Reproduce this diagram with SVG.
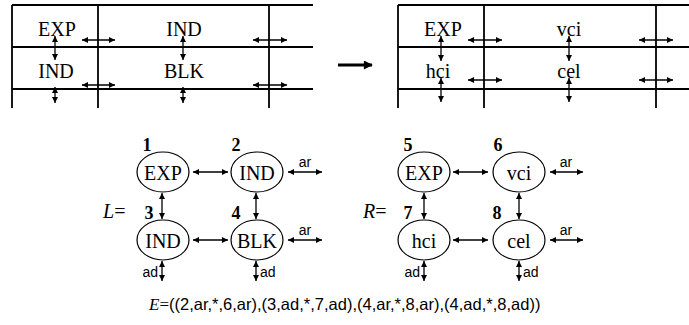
<svg xmlns="http://www.w3.org/2000/svg" width="689" height="325" viewBox="0 0 689 325">
<style>
.grid line{stroke:#000;stroke-width:1.8}
.ser{font-family:"Liberation Serif","Times New Roman",serif;font-size:20px;fill:#000}
.num{font-family:"Liberation Serif","Times New Roman",serif;font-size:18px;font-weight:bold;fill:#000}
.it{font-style:italic}
.sans{font-family:"Liberation Sans",Arial,sans-serif;font-size:14px;fill:#000}
.fser{font-family:"Liberation Serif","Times New Roman",serif;font-size:17px;fill:#000}
.fsans{font-family:"Liberation Sans",Arial,sans-serif;font-size:16.5px}
.ar{stroke:#000;stroke-width:1.3;fill:none;marker-start:url(#ah);marker-end:url(#ah)}
ellipse{fill:none;stroke:#000;stroke-width:1.2}
</style>
<defs>
<marker id="ah" viewBox="0 0 10 10" refX="10" refY="5" markerWidth="7" markerHeight="6" orient="auto-start-reverse" markerUnits="userSpaceOnUse"><path d="M0,0 L10,5 L0,10 z" fill="#000"/></marker>
<marker id="big" viewBox="0 0 10 10" refX="9" refY="5" markerWidth="11" markerHeight="9" orient="auto" markerUnits="userSpaceOnUse"><path d="M0,0 L10,5 L0,10 z" fill="#000"/></marker>
</defs>
<rect width="689" height="325" fill="#fff"/>

<g id="grid-left" class="grid">
<line x1="12" y1="5" x2="313" y2="5"/>
<line x1="12" y1="47" x2="313" y2="47"/>
<line x1="12" y1="89" x2="313" y2="89"/>
<line x1="12" y1="5" x2="12" y2="108"/>
<line x1="98" y1="5" x2="98" y2="108"/>
<line x1="269" y1="5" x2="269" y2="108"/>
</g>
<g id="grid-left-text" class="ser" text-anchor="middle">
<text x="57" y="36">EXP</text>
<text x="184" y="36">IND</text>
<text x="56" y="78">IND</text>
<text x="184" y="78">BLK</text>
</g>

<g id="transform-arrow">
<line x1="338" y1="65" x2="372" y2="65" stroke="#000" stroke-width="3.2" marker-end="url(#big)"/>
</g>

<g id="grid-right" class="grid">
<line x1="398" y1="5" x2="689" y2="5"/>
<line x1="398" y1="47" x2="689" y2="47"/>
<line x1="398" y1="89" x2="689" y2="89"/>
<line x1="398" y1="5" x2="398" y2="108"/>
<line x1="484" y1="5" x2="484" y2="108"/>
<line x1="656" y1="5" x2="656" y2="108"/>
</g>
<g id="grid-right-text" class="ser" text-anchor="middle">
<text x="443" y="36">EXP</text>
<text x="569" y="36">vci</text>
<text x="438" y="78">hci</text>
<text x="569" y="78">cel</text>
</g>

<g id="grid-connectors">
<line class="ar" x1="82" y1="40" x2="115" y2="40"/>
<line class="ar" x1="253" y1="40" x2="287" y2="40"/>
<line class="ar" x1="82" y1="85" x2="115" y2="85"/>
<line class="ar" x1="253" y1="85" x2="287" y2="85"/>
<line class="ar" x1="55" y1="36" x2="55" y2="60"/>
<line class="ar" x1="183" y1="36" x2="183" y2="60"/>
<line class="ar" x1="55" y1="87" x2="55" y2="103"/>
<line class="ar" x1="183" y1="87" x2="183" y2="103"/>
<line class="ar" x1="468" y1="40" x2="502" y2="40"/>
<line class="ar" x1="639" y1="40" x2="673" y2="40"/>
<line class="ar" x1="468" y1="80" x2="502" y2="80"/>
<line class="ar" x1="639" y1="80" x2="673" y2="80"/>
<line class="ar" x1="441" y1="36" x2="441" y2="61"/>
<line class="ar" x1="569" y1="36" x2="569" y2="61"/>
<line class="ar" x1="441" y1="78" x2="441" y2="102"/>
<line class="ar" x1="569" y1="78" x2="569" y2="102"/>
</g>

<text class="ser it" x="103" y="218">L<tspan font-style="normal">=</tspan></text>
<text class="ser it" x="363" y="218">R<tspan font-style="normal">=</tspan></text>

<g id="n1"><ellipse cx="163" cy="172" rx="26" ry="20"/><text class="ser" x="163" y="180" text-anchor="middle">EXP</text><text class="num" x="147" y="151" text-anchor="middle">1</text></g>
<g id="n2"><ellipse cx="257" cy="172" rx="26" ry="20"/><text class="ser" x="257" y="180" text-anchor="middle">IND</text><text class="num" x="236" y="151" text-anchor="middle">2</text></g>
<g id="n3"><ellipse cx="163" cy="240" rx="26" ry="20"/><text class="ser" x="163" y="248" text-anchor="middle">IND</text><text class="num" x="149" y="219" text-anchor="middle">3</text></g>
<g id="n4"><ellipse cx="257" cy="240" rx="26" ry="20"/><text class="ser" x="257" y="248" text-anchor="middle">BLK</text><text class="num" x="236" y="219" text-anchor="middle">4</text></g>
<g id="n5"><ellipse cx="424" cy="172" rx="26" ry="20"/><text class="ser" x="424" y="180" text-anchor="middle">EXP</text><text class="num" x="408" y="151" text-anchor="middle">5</text></g>
<g id="n6"><ellipse cx="519" cy="172" rx="26" ry="20"/><text class="ser" x="519" y="180" text-anchor="middle">vci</text><text class="num" x="498" y="151" text-anchor="middle">6</text></g>
<g id="n7"><ellipse cx="424" cy="240" rx="26" ry="20"/><text class="ser" x="424" y="248" text-anchor="middle">hci</text><text class="num" x="408" y="219" text-anchor="middle">7</text></g>
<g id="n8"><ellipse cx="519" cy="240" rx="26" ry="20"/><text class="ser" x="519" y="248" text-anchor="middle">cel</text><text class="num" x="497" y="219" text-anchor="middle">8</text></g>

<g id="connectors">
<line class="ar" x1="193" y1="172" x2="228" y2="172"/>
<line class="ar" x1="193" y1="240" x2="228" y2="240"/>
<line class="ar" x1="288" y1="172" x2="322" y2="172"/>
<line class="ar" x1="288" y1="240" x2="322" y2="240"/>
<line class="ar" x1="162" y1="193" x2="162" y2="219"/>
<line class="ar" x1="256" y1="193" x2="256" y2="219"/>
<line class="ar" x1="162" y1="261" x2="162" y2="281"/>
<line class="ar" x1="256" y1="261" x2="256" y2="281"/>
<line class="ar" x1="453" y1="172" x2="488" y2="172"/>
<line class="ar" x1="453" y1="240" x2="488" y2="240"/>
<line class="ar" x1="550" y1="172" x2="583" y2="172"/>
<line class="ar" x1="550" y1="240" x2="583" y2="240"/>
<line class="ar" x1="424" y1="193" x2="424" y2="219"/>
<line class="ar" x1="519" y1="193" x2="519" y2="219"/>
<line class="ar" x1="424" y1="261" x2="424" y2="281"/>
<line class="ar" x1="519" y1="261" x2="519" y2="281"/>
<text class="sans" x="305" y="167" text-anchor="middle">ar</text>
<text class="sans" x="305" y="235" text-anchor="middle">ar</text>
<text class="sans" x="566" y="167" text-anchor="middle">ar</text>
<text class="sans" x="566" y="235" text-anchor="middle">ar</text>
<text class="sans" x="158" y="277" text-anchor="end">ad</text>
<text class="sans" x="260" y="277">ad</text>
<text class="sans" x="420" y="277" text-anchor="end">ad</text>
<text class="sans" x="523" y="277">ad</text>
</g>

<text class="fser" x="149" y="310"><tspan class="it">E</tspan>=<tspan class="fsans">((2,ar,*,6,ar),(3,ad,*,7,ad),(4,ar,*,8,ar),(4,ad,*,8,ad))</tspan></text>
</svg>
